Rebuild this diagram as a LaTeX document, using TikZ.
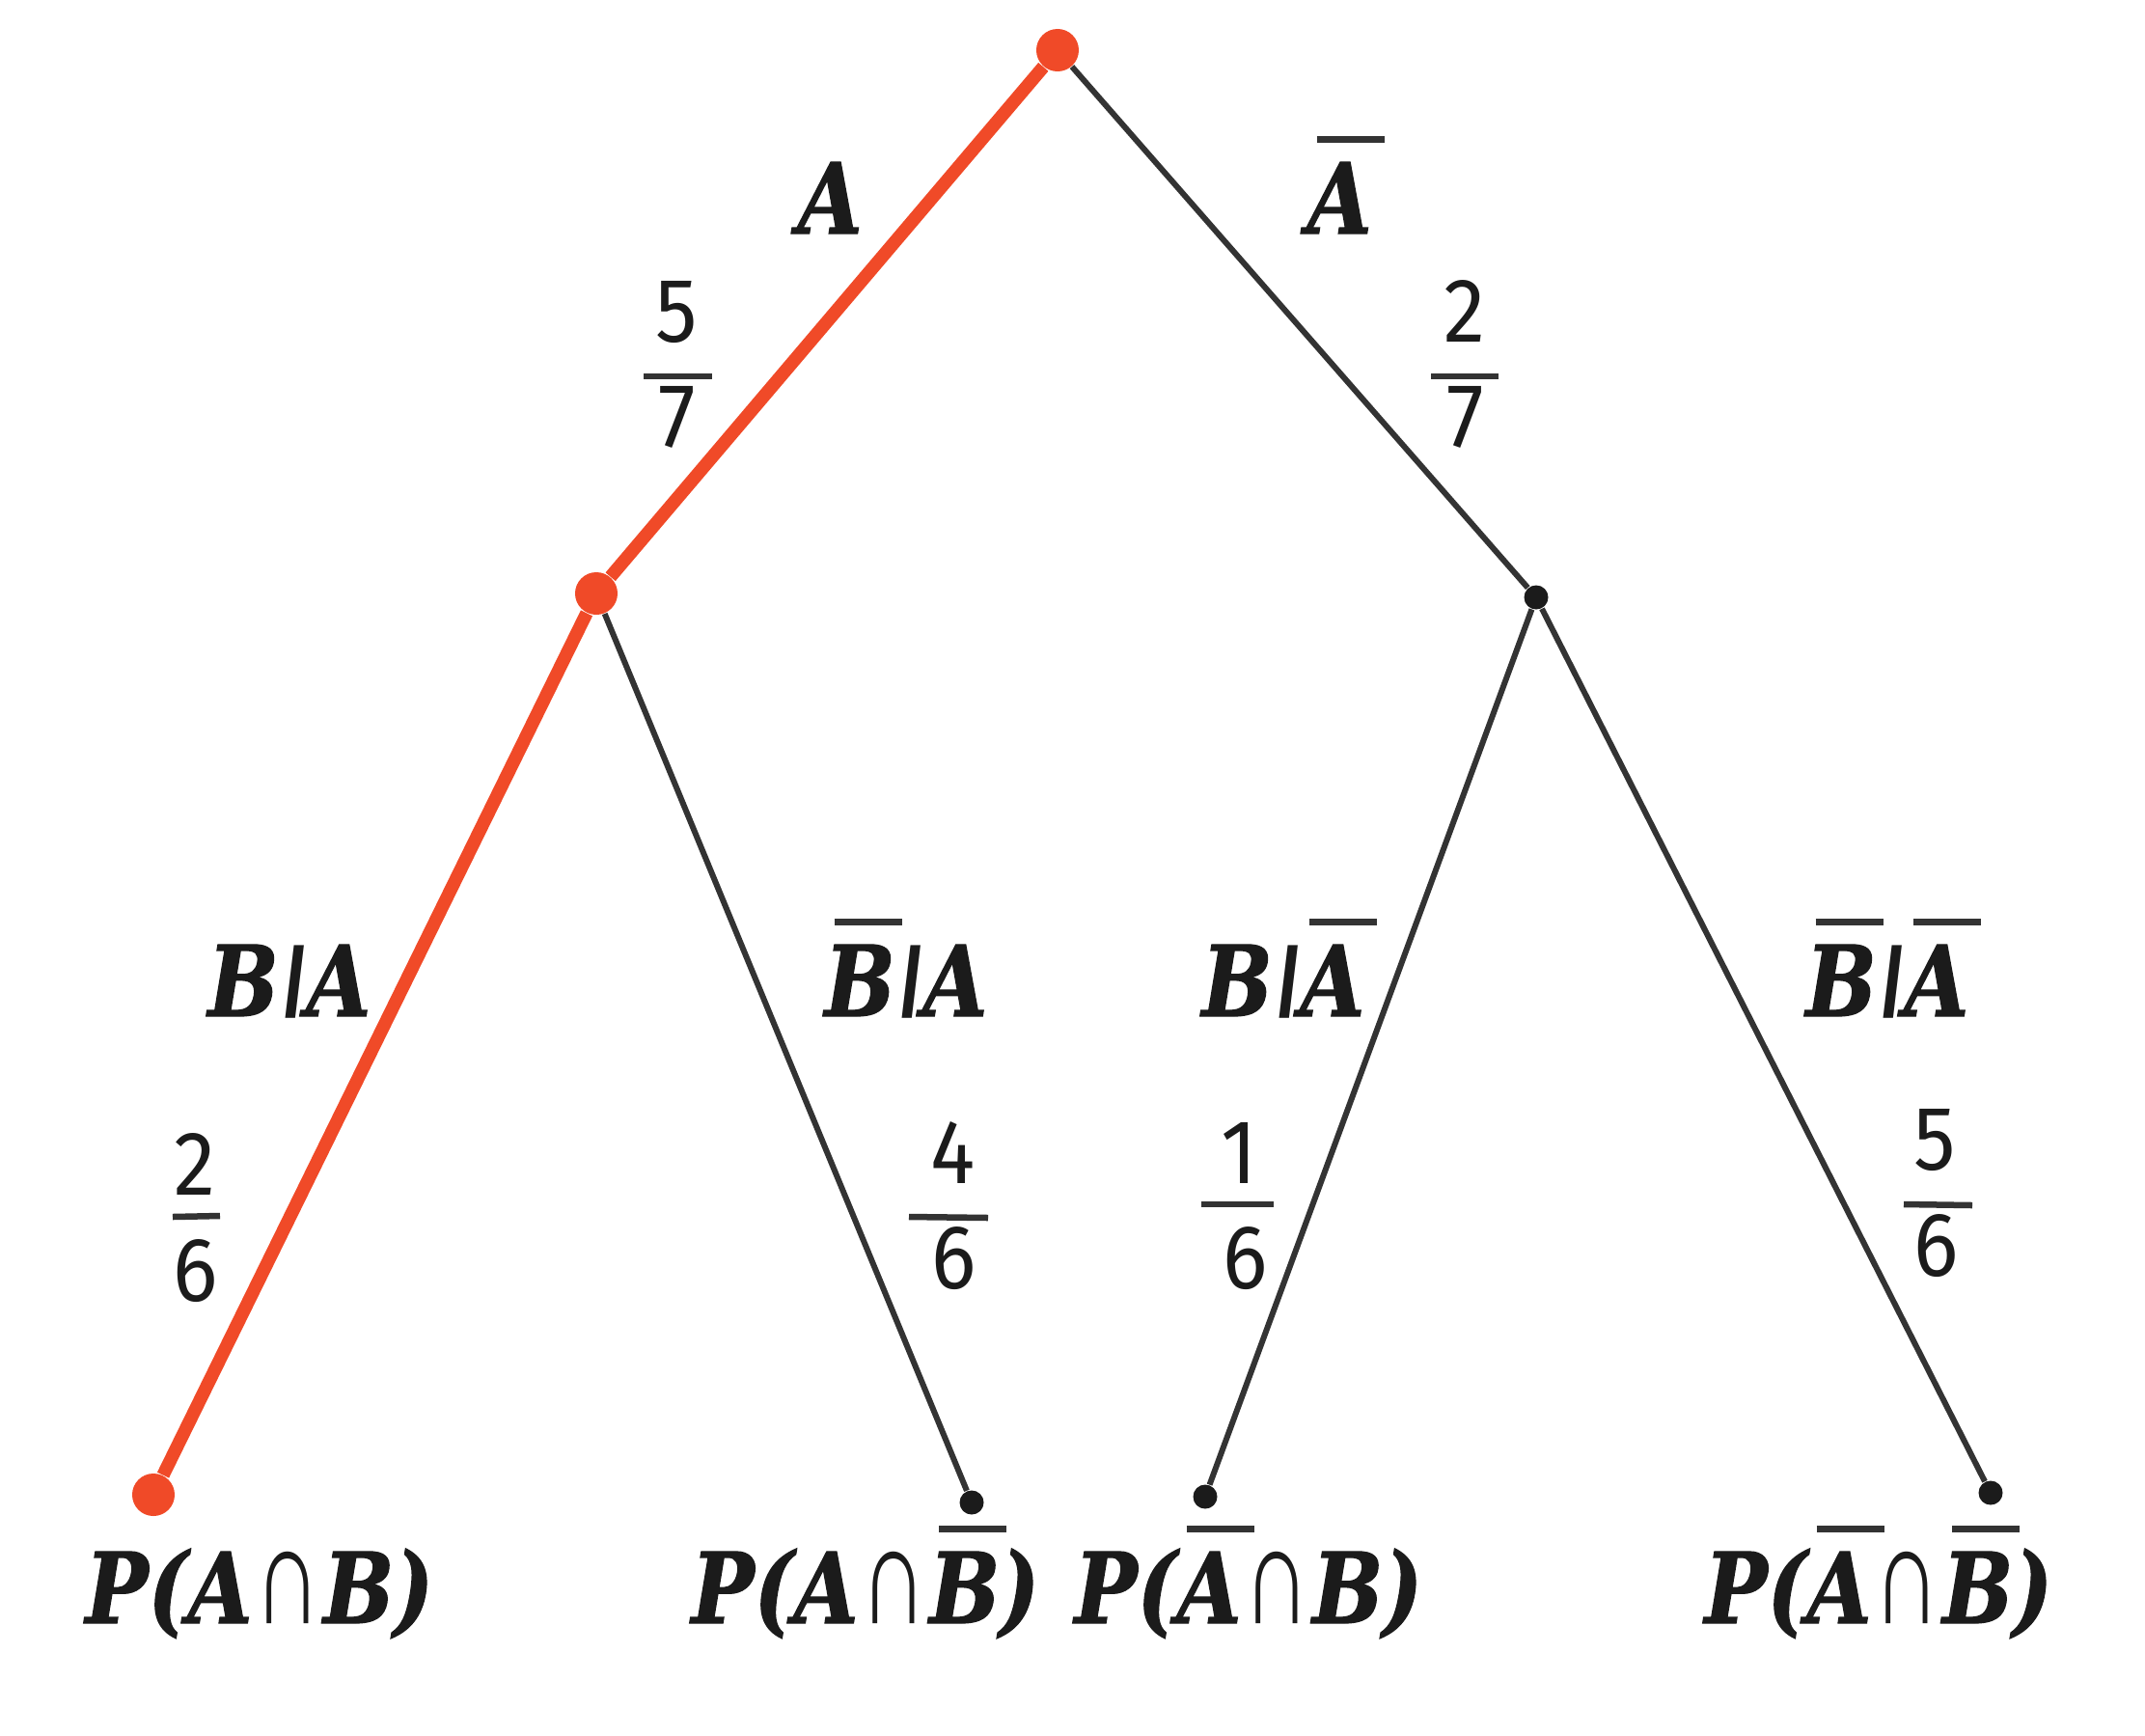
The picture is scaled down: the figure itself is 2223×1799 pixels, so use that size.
\documentclass[tikz,border=0pt]{standalone}
\usepackage{fontspec}
\usepackage{graphicx}
\newfontfamily\labfont[FakeStretch=0.85,FakeBold=1.2]{DejaVu Serif}
\newfontfamily\digfont[FakeStretch=0.92]{Fira Sans}
\newfontfamily\symfont[FakeSlant=0.12]{Liberation Sans}
\newfontfamily\capfont{Liberation Sans}
\definecolor{treered}{HTML}{F04A28}
\definecolor{treedark}{HTML}{333333}
\definecolor{txt}{HTML}{1B1B1B}
\newcommand\ob[1]{\leavevmode\rlap{\kern0.10cm\raisebox{0.94cm}{\textcolor{treedark}{\rule{0.70cm}{0.07cm}}}}#1}
\newcommand\vb{{\symfont\fontsize{23}{23}\selectfont\kern0.02cm\raisebox{0.15cm}{|}\kern0.04cm}}
\newcommand\ca{{\capfont\kern0.02cm\scalebox{0.95}[1.45]{∩}\kern0.02cm}}
\tikzset{
  x=0.01cm, y=-0.01cm,
  reddot/.style={circle, fill=treered, inner sep=0pt, minimum size=0.44cm},
  darkdot/.style={circle, fill=txt, inner sep=0pt, minimum size=0.25cm},
  redline/.style={draw=treered, line width=0.135cm},
  darkline/.style={draw=treedark, line width=0.06cm},
  lab/.style={inner sep=0pt, anchor=base west, text=txt, font=\labfont\bfseries\itshape\fontsize{28.9}{30}\selectfont},
  dig/.style={inner sep=0pt, anchor=base, text=txt, font=\digfont\fontsize{26.8}{28}\selectfont},
  fracbar/.style={draw=treedark, line width=0.065cm}
}
\begin{document}
\begin{tikzpicture}
\useasboundingbox (0,0) rectangle (2223,1799);
% tree nodes
\node[reddot] (R) at (1096,52) {};
\node[reddot] (M1) at (618,615) {};
\node[darkdot] (M2) at (1592,619) {};
\node[reddot] (L1) at (159,1549) {};
\node[darkdot] (L2) at (1007,1557) {};
\node[darkdot] (L3) at (1249,1551) {};
\node[darkdot] (L4) at (2063,1547) {};
% edges
\draw[redline] (R) -- (M1);
\draw[darkline] (R) -- (M2);
\draw[redline] (M1) -- (L1);
\draw[darkline] (M1) -- (L2);
\draw[darkline] (M2) -- (L3);
\draw[darkline] (M2) -- (L4);
% event labels
\node[lab] (tA) at (826,242) {A};
\node[lab] (tAb) at (1354,242) {\ob{A}};
\node[lab] (tBA) at (215,1053) {B\vb A};
\node[lab] (tBbA) at (854,1053) {\ob{B}\vb A};
\node[lab] (tBAb) at (1245,1053) {B\vb\ob{A}};
\node[lab] (tBbAb) at (1871,1053) {\ob{B}\vb\ob{A}};
% fractions
\node[dig] (n1) at (701,354) {5};
\draw[fracbar] (667,390) -- (738,390);
\node[dig] (d1) at (702,463) {7};
\node[dig] (n2) at (1518,354) {2};
\draw[fracbar] (1483,390) -- (1553,390);
\node[dig] (d2) at (1519,463) {7};
\node[dig] (n3) at (202,1238) {2};
\draw[fracbar] (179,1261) -- (228,1260);
\node[dig] (d3) at (203,1348) {6};
\node[dig] (n4) at (988,1226) {4};
\draw[fracbar] (942,1261) -- (1024,1262);
\node[dig] (d4) at (989,1335) {6};
\node[dig] (n5) at (1284,1226) {1};
\draw[fracbar] (1245,1248) -- (1320,1248);
\node[dig] (d5) at (1291,1335) {6};
\node[dig] (n6) at (2005,1212) {5};
\draw[fracbar] (1973,1248) -- (2044,1249);
\node[dig] (d6) at (2007,1322) {6};
% outcome labels
\node[lab] (p1) at (88,1682) {P(A\ca B)};
\node[lab] (p2) at (716,1682) {P(A\ca\ob{B})};
\node[lab] (p3) at (1113,1682) {P(\ob{A}\ca B)};
\node[lab] (p4) at (1766,1682) {P(\ob{A}\ca\ob{B})};
\end{tikzpicture}
\end{document}
